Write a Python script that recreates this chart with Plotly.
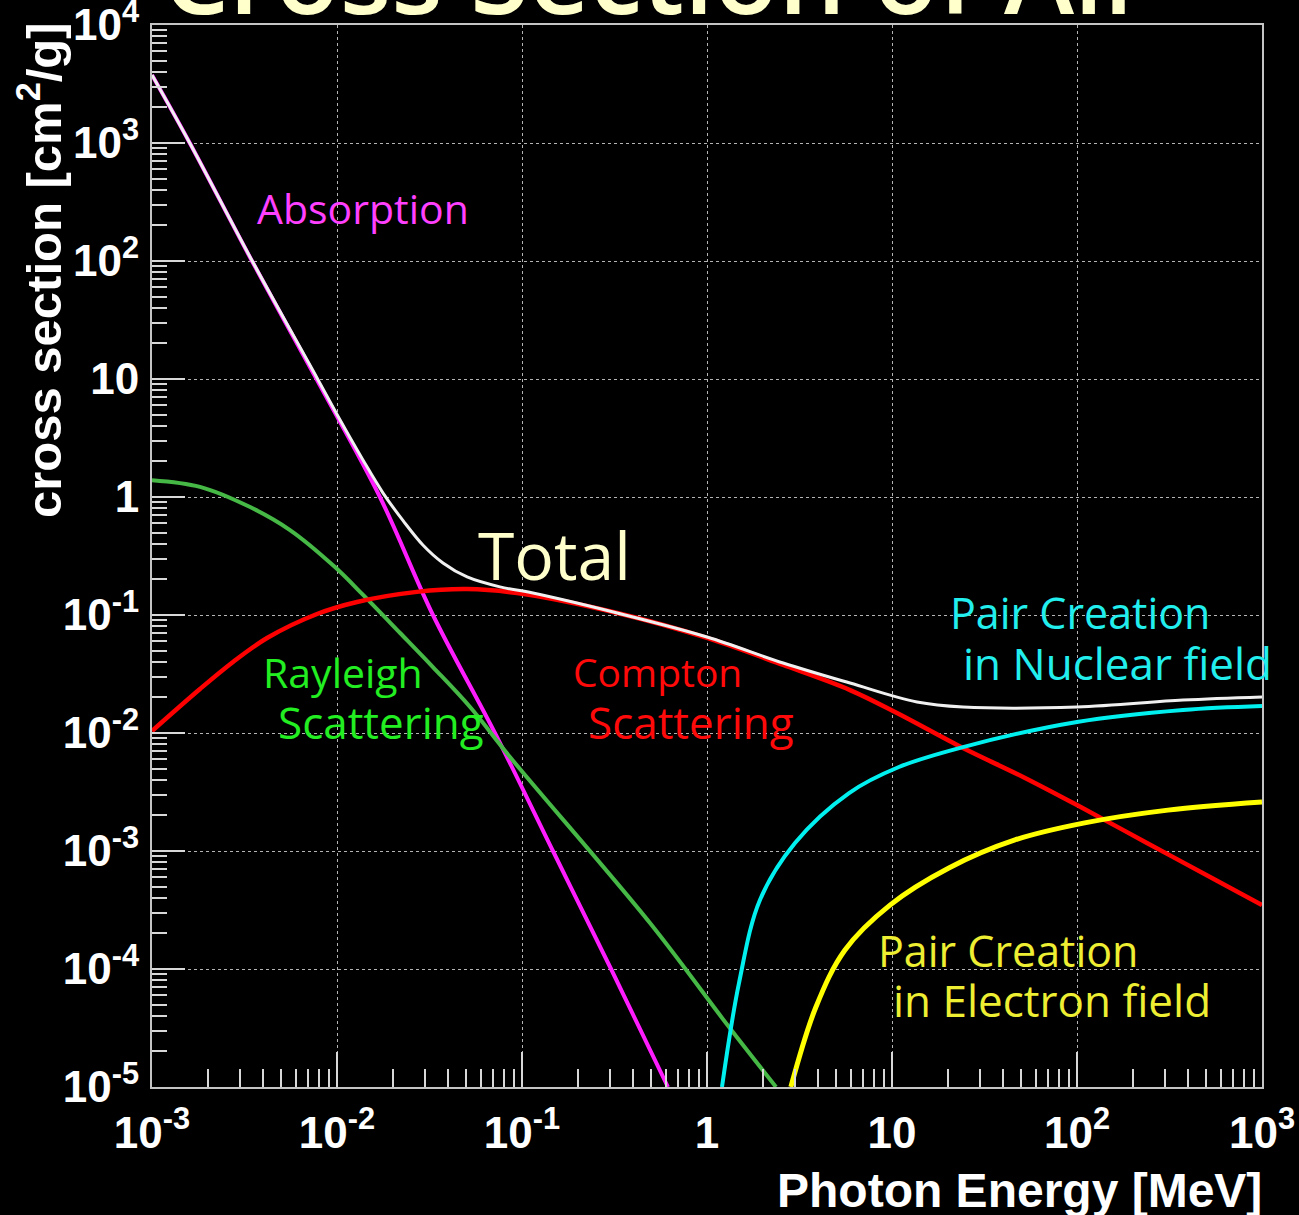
import plotly.graph_objects as go

# ---- data: mass attenuation components for air [cm^2/g] vs photon energy [MeV]
energy_total = [0.001, 0.0016, 0.00347, 0.0078, 0.01, 0.01384, 0.01774, 0.02276, 0.0292,
                0.0374, 0.0505, 0.076, 0.1146, 0.327, 1.0, 2.58, 5.93, 13.65, 24.2,
                100, 374, 1000]
sigma_total = [3775, 1001, 101, 10.2, 5.0, 2.05, 1.08, 0.63, 0.39,
               0.276, 0.21, 0.173, 0.1535, 0.104, 0.0651, 0.0392, 0.0265, 0.0183, 0.0166,
               0.0166, 0.019, 0.0202]

energy_absorption = [0.001, 0.0016, 0.00347, 0.0078, 0.01706, 0.033, 0.0714, 0.147, 0.303, 0.615]
sigma_absorption = [3770, 1000, 100, 9.8, 1.0, 0.1, 0.01, 0.001, 1e-4, 1e-5]

energy_rayleigh = [0.001, 0.001817, 0.00339, 0.00557, 0.00975, 0.01384, 0.02193, 0.033,
                   0.0524, 0.0861, 0.492, 1.315, 2.36]
sigma_rayleigh = [1.39, 1.22, 0.822, 0.525, 0.255, 0.148, 0.0704, 0.0362,
                  0.0166, 0.00626, 2.45e-4, 3.22e-5, 1e-5]

energy_compton = [0.001, 0.001817, 0.002741, 0.004187, 0.0078, 0.01283, 0.02704, 0.0505,
                  0.094, 0.327, 1.0, 2.58, 5.93, 10.64, 24.2, 51.1, 100, 238.8, 571, 1000]
sigma_compton = [0.0104, 0.0236, 0.040, 0.0638, 0.102, 0.129, 0.157, 0.166,
                 0.1535, 0.104, 0.0639, 0.0377, 0.0231, 0.01476, 0.00746, 0.00424,
                 0.00245, 0.00117, 5.6e-4, 3.48e-4]

energy_pair_nuclear = [1.205, 1.489, 1.933, 2.99, 5.86, 10.9, 24.2, 100, 374, 1000]
sigma_pair_nuclear = [1e-5, 7.6e-5, 3.85e-4, 1.17e-3, 3.1e-3, 5.15e-3, 7.6e-3, 0.0124, 0.01567, 0.01694]

energy_pair_electron = [2.84, 3.88, 5.57, 9.75, 20.3, 46.2, 110, 310, 1000]
sigma_pair_electron = [1e-5, 4.76e-5, 1.45e-4, 3.48e-4, 7.18e-4, 1.24e-3, 1.73e-3, 2.22e-3, 2.6e-3]

x_tick_vals = [1e-3, 1e-2, 1e-1, 1, 10, 100, 1000]
x_tick_text = ["10<sup>-3</sup>", "10<sup>-2</sup>", "10<sup>-1</sup>", "1", "10",
               "10<sup>2</sup>", "10<sup>3</sup>"]
y_tick_vals = [1e-5, 1e-4, 1e-3, 1e-2, 1e-1, 1, 10, 100, 1000, 1e4]
y_tick_text = ["10<sup>-5</sup>", "10<sup>-4</sup>", "10<sup>-3</sup>", "10<sup>-2</sup>",
               "10<sup>-1</sup>", "1", "10", "10<sup>2</sup>", "10<sup>3</sup>", "10<sup>4</sup>"]

# ---- page geometry
W, H = 1299, 1215
ML, MR, MT, MB = 152, 37, 25, 128


def px_x(p):
    return (p - ML) / (W - ML - MR)


def px_y(p):
    return (H - MB - p) / (H - MT - MB)


def minor_vals(lo, hi):
    vals = []
    for e in range(lo, hi):
        for m in range(2, 10):
            vals.append(m * 10.0 ** e)
    return vals


fig = go.Figure()


def add_curve(x, y, color, width):
    fig.add_trace(go.Scatter(
        x=x, y=y, mode="lines",
        line=dict(color=color, width=width, shape="spline", smoothing=1.0),
        showlegend=False, hoverinfo="skip"))


add_curve(energy_absorption, sigma_absorption, "#ff1cff", 4)
add_curve(energy_rayleigh, sigma_rayleigh, "#46b846", 4)
add_curve(energy_compton, sigma_compton, "#ff0000", 4.5)
add_curve(energy_pair_nuclear, sigma_pair_nuclear, "#00f0f0", 4)
add_curve(energy_pair_electron, sigma_pair_electron, "#ffff00", 5)
add_curve(energy_total, sigma_total, "#f0f0f0", 3)

tick_col = "#d8d8d8"
axis_common = dict(
    type="log", showgrid=True, gridcolor="#b4b4b4", griddash="dot", gridwidth=1,
    showline=True, linecolor="#c4c4c4", linewidth=2, mirror=True,
    ticks="inside", tickwidth=2, tickcolor=tick_col, zeroline=False,
    tickmode="array", automargin=False, ticklabeloverflow="allow",
    tickfont=dict(family="Liberation Sans", size=44, color="white", weight="bold"),
)

fig.update_xaxes(
    range=[-3, 3], tickvals=x_tick_vals, ticktext=x_tick_text, ticklen=35,
    ticklabelstandoff=6,
    minor=dict(tickmode="array", tickvals=minor_vals(-3, 3), ticks="inside", ticklen=18,
               tickwidth=2, tickcolor=tick_col, showgrid=False),
    **axis_common)
fig.update_yaxes(
    range=[-5, 4], tickvals=y_tick_vals, ticktext=y_tick_text, ticklen=33,
    ticklabelstandoff=2,
    minor=dict(tickmode="array", tickvals=minor_vals(-5, 4), ticks="inside", ticklen=15,
               tickwidth=2, tickcolor=tick_col, showgrid=False),
    **axis_common)

label_font = "Open Sans"


def label(text, left, mid, size, color):
    return dict(text=text, x=px_x(left), y=px_y(mid), xanchor="left", yanchor="middle",
                font=dict(family=label_font, size=size, color=color))


annotations = [
    # title, mostly above the page edge
    dict(text="Cross Section of Air", x=px_x(655), y=px_y(47), xanchor="center", yanchor="bottom",
         font=dict(family=label_font, size=106, color="#ffffcc", weight=600)),
    # axis titles
    dict(text="cross section [cm<sup>2</sup>/g]", x=px_x(40), y=px_y(270), textangle=-90,
         xanchor="center", yanchor="middle",
         font=dict(family="Liberation Sans", size=49, color="white", weight="bold")),
    dict(text="Photon Energy [MeV]", x=px_x(1264), y=px_y(1190), xanchor="right", yanchor="middle",
         font=dict(family="Liberation Sans", size=48, color="white", weight="bold")),
    # curve labels
    label("Absorption", 255, 208, 41, "#ff40ff"),
    label("Total", 476, 554, 66, "#ffffcc"),
    label("Rayleigh", 261, 672, 41, "#22ee22"),
    label("Scattering", 276, 722, 44, "#22ee22"),
    label("Compton", 571, 671, 39, "#ff0a0a"),
    label("Scattering", 586, 722, 44, "#ff0a0a"),
    label("Pair Creation", 948, 612, 43, "#22eeee"),
    label("in Nuclear field", 961, 663, 44, "#22eeee"),
    label("Pair Creation", 876, 950, 43, "#eeee33"),
    label("in Electron field", 891, 1000, 44, "#eeee33"),
]
for a in annotations:
    a.update(xref="paper", yref="paper", showarrow=False)

fig.update_layout(
    width=W, height=H, autosize=False,
    margin=dict(l=ML, r=MR, t=MT, b=MB, pad=0),
    paper_bgcolor="black", plot_bgcolor="black",
    annotations=annotations,
    showlegend=False,
)

fig.write_html("out.html")
